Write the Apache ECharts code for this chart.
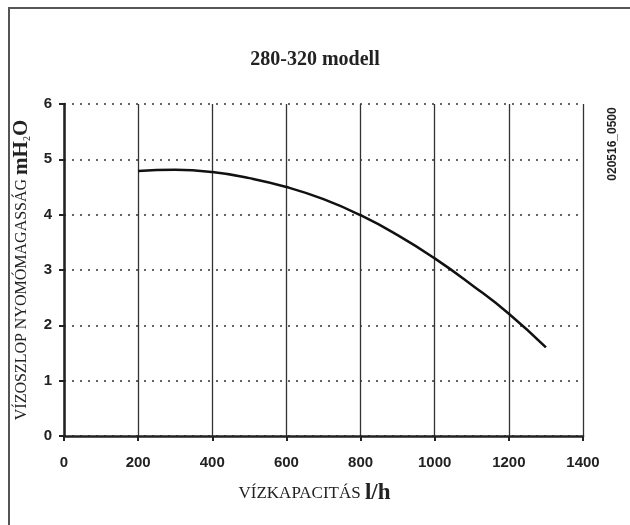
<!DOCTYPE html>
<html>
<head>
<meta charset="utf-8">
<script src="https://cdn.jsdelivr.net/npm/echarts@6/dist/echarts.min.js"></script>
<style>
  html, body { margin: 0; padding: 0; background: #fff; }
  #chart { width: 630px; height: 525px; }
</style>
</head>
<body>
<div id="chart"></div>
<script>
// pump curve
var flow = [200, 300, 400, 500, 600, 700, 800, 900, 1000, 1100, 1200, 1300];
var head = [4.79, 4.81, 4.77, 4.66, 4.50, 4.28, 3.99, 3.63, 3.21, 2.73, 2.21, 1.60];
var xTicks = [0, 200, 400, 600, 800, 1000, 1200, 1400];
var yTicks = [0, 1, 2, 3, 4, 5, 6];

var serif = '"Liberation Serif", "DejaVu Serif", serif';
var sans = '"Liberation Sans", Arial, sans-serif';

var chart = echarts.init(document.getElementById('chart'));
var points = flow.map(function (f, i) { return [f, head[i]]; });

chart.setOption({
  animation: false,
  backgroundColor: '#fff',
  title: {
    text: '280-320 modell',
    left: 'center',
    top: 45,
    textStyle: { fontFamily: serif, fontSize: 20, fontWeight: 'bold', color: '#222' }
  },
  grid: { left: 64, right: 47, top: 104, bottom: 89 },
  xAxis: {
    type: 'value',
    min: xTicks[0],
    max: xTicks[xTicks.length - 1],
    interval: 200,
    name: '{a|VÍZKAPACITÁS }{b|l/h}',
    nameLocation: 'middle',
    nameGap: 46,
    nameTextStyle: {
      padding: [0, 18, 0, 0],
      rich: {
        a: { fontFamily: serif, fontSize: 17, color: '#222' },
        b: { fontFamily: serif, fontSize: 23, fontWeight: 'bold', color: '#222' }
      }
    },
    axisLine: { show: true, lineStyle: { color: '#222', width: 2.5 } },
    axisTick: { show: true, inside: false, length: 5, lineStyle: { color: '#222', width: 2 } },
    axisLabel: {
      margin: 19, fontFamily: sans, fontSize: 15, fontWeight: 'bold', color: '#222',
      formatter: function (v) { return String(v); }
    },
    splitLine: { show: true, lineStyle: { color: '#333', width: 1.3, type: 'solid' } }
  },
  yAxis: {
    type: 'value',
    min: yTicks[0],
    max: yTicks[yTicks.length - 1],
    interval: 1,
    name: '{a|VÍZOSZLOP NYOMÓMAGASSÁG }{b|mH}{s|2}{b|O}',
    nameLocation: 'middle',
    nameRotate: 90,
    nameGap: 26,
    nameTextStyle: {
      rich: {
        a: { fontFamily: serif, fontSize: 16, color: '#222' },
        b: { fontFamily: serif, fontSize: 21, fontWeight: 'bold', color: '#222' },
        s: { fontFamily: serif, fontSize: 10, color: '#222', padding: [12, 0, 0, 0] }
      }
    },
    axisLine: { show: true, lineStyle: { color: '#222', width: 2.5 } },
    axisTick: { show: true, inside: false, length: 5, lineStyle: { color: '#222', width: 2 } },
    axisLabel: {
      margin: 12, fontFamily: sans, fontSize: 15, fontWeight: 'bold', color: '#222',
      formatter: function (v) { return String(v); }
    },
    splitLine: { show: true, lineStyle: { color: '#333', width: 1.5, type: [2, 6] } }
  },
  graphic: [
    {
      type: 'rect',
      shape: { x: 9, y: 8, width: 700, height: 600 },
      style: { fill: 'none', stroke: '#555', lineWidth: 2 },
      silent: true
    },
    {
      type: 'text',
      x: 613,
      y: 144,
      rotation: Math.PI / 2,
      style: {
        text: '020516_0500',
        fontFamily: sans,
        fontSize: 12,
        fontWeight: 'bold',
        fill: '#222',
        align: 'center',
        verticalAlign: 'middle'
      }
    }
  ],
  series: [{
    type: 'line',
    data: points,
    smooth: true,
    showSymbol: false,
    lineStyle: { color: '#111', width: 2.5 }
  }]
});
</script>
</body>
</html>
